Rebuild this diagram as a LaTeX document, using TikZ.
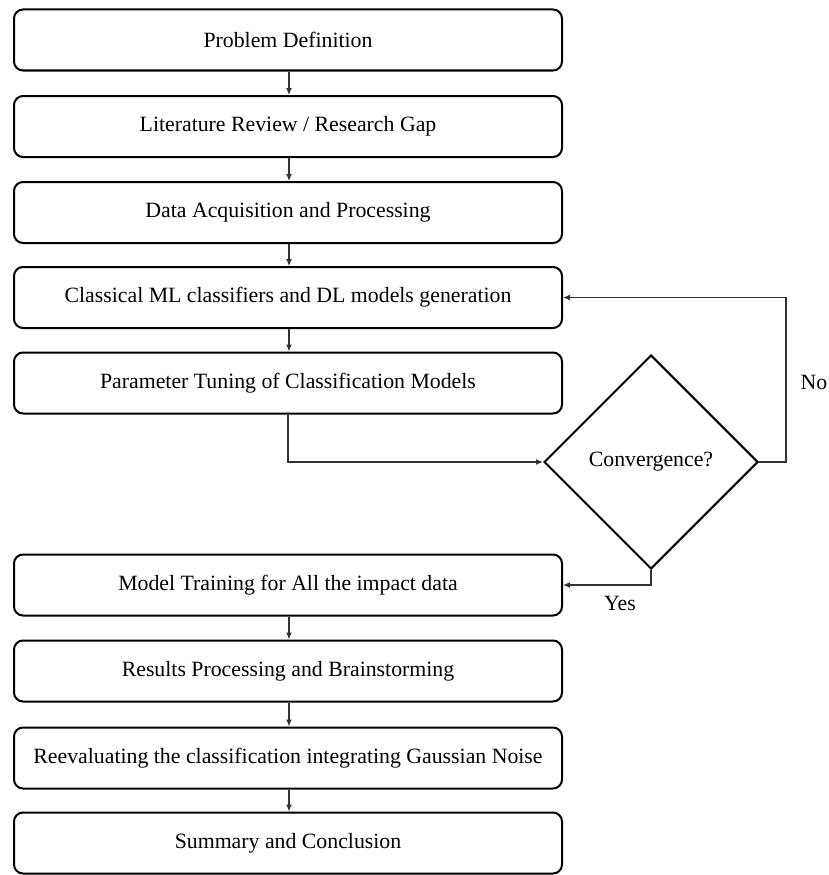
\documentclass[tikz,border=0pt]{standalone}
\usepackage{fontspec}
\setmainfont{Liberation Serif}
\usetikzlibrary{shapes.geometric,arrows.meta}
\begin{document}
\begin{tikzpicture}[x=1pt,y=-1pt,
  stepbox/.style={draw, line width=2pt, rounded corners=9pt, minimum width=548pt, minimum height=61pt, inner sep=0pt, font=\fontsize{21.8}{24}\selectfont},
  decision/.style={draw, diamond, line width=2pt, minimum width=214pt, minimum height=214pt, inner sep=0pt, font=\fontsize{21.8}{24}\selectfont},
  arr/.style={line width=1.2pt, draw=black!80, -{Latex[length=7pt,width=6pt]}},
  lbl/.style={font=\fontsize{21.8}{24}\selectfont, inner sep=0pt}]
\useasboundingbox (0,0) rectangle (829,875);
\node[stepbox] (b1) at (288,40) {Problem Definition};
\node[stepbox] (b2) at (288,126.5) {Literature Review / Research Gap};
\node[stepbox] (b3) at (288,212.5) {Data Acquisition and Processing};
\node[stepbox] (b4) at (288,297.5) {Classical ML classifiers and DL models generation};
\node[stepbox] (b5) at (288,383) {Parameter Tuning of Classification Models};
\node[decision] (d) at (651,462) {Convergence?};
\node[stepbox] (b6) at (288,585) {Model Training for All the impact data};
\node[stepbox] (b7) at (288,671) {Results Processing and Brainstorming};
\node[stepbox] (b8) at (288,758) {Reevaluating the classification integrating Gaussian Noise};
\node[stepbox] (b9) at (288,843) {Summary and Conclusion};
\foreach \a/\b in {b1/b2,b2/b3,b3/b4,b4/b5,b6/b7,b7/b8,b8/b9}
  \draw[arr] ([xshift=1pt]\a.south) -- ([xshift=1pt]\b.north);
\draw[arr] (b5.south) |- (d.west);
\draw[arr] (d.east) -- ++(27,0) |- (b4.east);
\draw[arr] (d.south) |- (b6.east);
\node[lbl] (no) at (814,382) {No};
\node[lbl] (yes) at (620,603) {Yes};
\end{tikzpicture}
\end{document}
